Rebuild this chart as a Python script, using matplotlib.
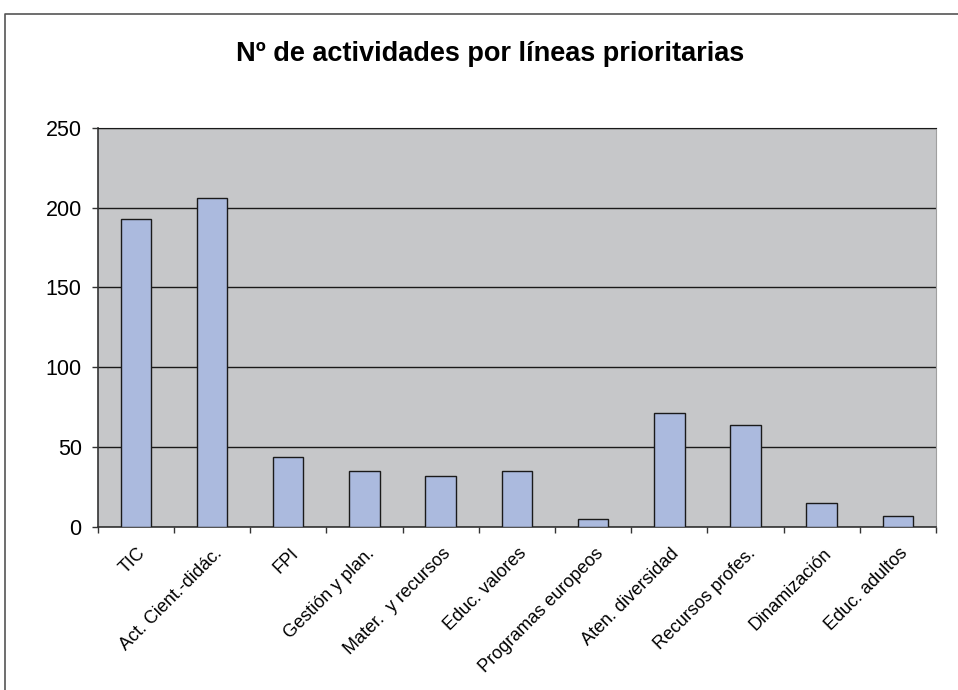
import matplotlib
matplotlib.use("Agg")
import matplotlib.pyplot as plt
from matplotlib.lines import Line2D
import numpy as np

categories = ["TIC", "Act. Cient.-didác.", "FPI", "Gestión y plan.", "Mater.  y recursos",
              "Educ. valores", "Programas europeos", "Aten. diversidad", "Recursos profes.",
              "Dinamización", "Educ. adultos"]
values = [193, 206, 44, 35, 32, 35, 5, 71, 64, 15, 7]
yticks = [0, 50, 100, 150, 200, 250]
title = "Nº de actividades por líneas prioritarias"

plt.rcParams['font.family'] = ['Liberation Sans', 'DejaVu Sans']

W, H = 958, 690
fig = plt.figure(figsize=(W / 100, H / 100), dpi=100)
fig.patch.set_facecolor("white")

left, right, top, bottom = 97.7, 936, 128, 526.7
ax = fig.add_axes([left / W, 1 - bottom / H, (right - left) / W, (bottom - top) / H])
ax.set_facecolor("#c6c7c9")

x = np.arange(len(categories))
ax.bar(x, values, width=0.4, color="#abbade", edgecolor="#1a1a1a", linewidth=1.0, zorder=3)

ax.set_xlim(-0.5, len(categories) - 0.5)
ax.set_ylim(0, 250)
ax.set_yticks(yticks)
ax.set_yticklabels([str(v) for v in yticks], fontsize=15.5)
ax.yaxis.grid(True, color="#1a1a1a", linewidth=1.0, zorder=1)
ax.set_axisbelow(True)

# x ticks at category boundaries
ax.set_xticks(np.arange(len(categories) + 1) - 0.5)
ax.set_xticklabels([])
ax.tick_params(axis="x", direction="out", length=4.5, width=1, color="#333333")
ax.tick_params(axis="y", direction="out", length=4.5, width=1, color="#333333", pad=7)

for xi, lab in zip(x, categories):
    ax.annotate(lab, xy=(xi, 0), xycoords="data", xytext=(1, -13), textcoords="offset points",
                rotation=45, ha="right", va="top", rotation_mode="anchor", fontsize=13,
                annotation_clip=False)

for s in ["left", "bottom"]:
    ax.spines[s].set_color("#333333")
    ax.spines[s].set_linewidth(1.2)
ax.spines["top"].set_color("#1a1a1a")
ax.spines["right"].set_color("#a0a0a0")

fig.text(490 / W, 1 - 60.7 / H, title, ha="center", va="baseline", fontsize=19.5, fontweight="bold")

# outer chart border
fig.add_artist(Line2D([4.5 / W, 4.5 / W, 1.0], [0.0, 1 - 13.5 / H, 1 - 13.5 / H],
                      transform=fig.transFigure, color="#555555", linewidth=1.2))

fig.savefig("out.png", dpi=100)
